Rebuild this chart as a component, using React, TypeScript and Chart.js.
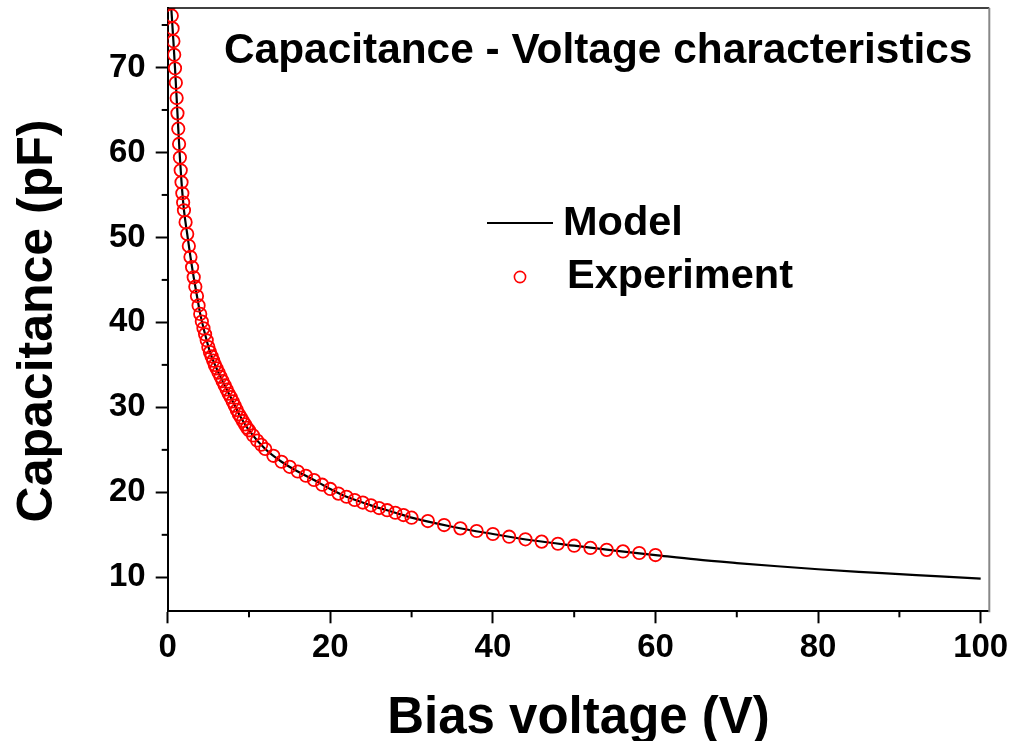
import React, { useEffect, useRef } from 'react';
import { Chart, registerables } from 'chart.js';

Chart.register(...registerables);

const FONT = '"Liberation Sans", Arial, Helvetica, sans-serif';

// Measured C–V points (bias voltage in V, capacitance in pF)
const expVoltage = [
  0.3, 0.4, 0.5, 0.6, 0.7, 0.8, 0.9, 1.0, 1.1, 1.2, 1.3, 1.4, 1.5, 1.6, 1.7, 1.8, 1.9, 2.0,
  2.2, 2.4, 2.6, 2.8, 3.0, 3.2, 3.4, 3.6, 3.8, 4.0, 4.2, 4.4, 4.6, 4.8, 5.0, 5.2, 5.4, 5.6, 5.8, 6.0,
  6.25, 6.5, 6.75, 7.0, 7.25, 7.5, 7.75, 8.0, 8.25, 8.5, 8.75, 9.0, 9.25, 9.5, 9.75, 10.0,
  10.5, 11.0, 11.5, 12.0,
  13, 14, 15, 16, 17, 18, 19, 20, 21, 22, 23, 24, 25, 26, 27, 28, 29, 30,
  32, 34, 36, 38, 40, 42, 44, 46, 48, 50, 52, 54, 56, 58, 60,
];
const expCapacitance = [
  79.0, 77.6, 76.1, 74.6, 73.1, 71.5, 69.9, 68.2, 66.4, 64.6, 62.8, 61.0, 59.4, 57.9, 56.5, 55.2, 54.1, 53.2,
  51.8, 50.4, 49.0, 47.7, 46.5, 45.3, 44.2, 43.1, 42.0, 41.0, 40.1, 39.3, 38.6, 37.9, 37.1, 36.5, 36.0, 35.5, 35.0, 34.6,
  34.1, 33.6, 33.1, 32.6, 32.1, 31.6, 31.2, 30.7, 30.2, 29.7, 29.2, 28.8, 28.4, 28.0, 27.6, 27.3,
  26.7, 26.1, 25.6, 25.1,
  24.3, 23.6, 23.0, 22.45, 21.95, 21.45, 20.9, 20.4, 19.85, 19.48, 19.1, 18.8, 18.47, 18.15, 17.9, 17.6, 17.33, 17.02,
  16.62, 16.15, 15.76, 15.45, 15.1, 14.78, 14.47, 14.2, 13.95, 13.72, 13.46, 13.23, 13.05, 12.86, 12.62,
];

// Model curve (bias voltage in V, capacitance in pF)
const modelVoltage = [
  0.3, 0.5, 0.7, 0.9, 1.1, 1.3, 1.5, 1.7, 2.0, 2.4, 2.8, 3.2, 3.6, 4.0, 4.6, 5.2, 6.0, 7.0, 8.0, 9.0,
  10, 12, 14, 16, 18, 20, 22, 25, 28, 30, 35, 40, 45, 50, 55, 60, 65, 70, 75, 80, 85, 90, 95, 100,
];
const modelCapacitance = [
  79.0, 76.1, 73.1, 69.9, 66.4, 62.8, 59.4, 56.5, 53.2, 50.4, 47.7, 45.3, 43.1, 41.0, 38.6, 36.5, 34.6, 32.6, 30.7, 28.8,
  27.3, 25.1, 23.6, 22.45, 21.45, 20.4, 19.48, 18.47, 17.6, 17.02, 15.95, 15.1, 14.33, 13.72, 13.15, 12.62, 12.1, 11.68, 11.3, 10.95, 10.65, 10.38, 10.1, 9.85,
];

const xMajorTicks = [0, 20, 40, 60, 80, 100];
const xMinorTicks = [10, 30, 50, 70, 90];
const yMajorTicks = [10, 20, 30, 40, 50, 60, 70];
const yMinorTicks = [15, 25, 35, 45, 55, 65, 75];

const chartTitle = 'Capacitance - Voltage characteristics';
const seriesNames = ['Model', 'Experiment'];
const xAxisTitle = 'Bias voltage (V)';
const yAxisTitle = 'Capacitance (pF)';

const RED = '#ff0000';

const framePlugin = {
  id: 'frameAndLabels',
  afterDraw(chart: any) {
    const { ctx, chartArea, scales } = chart;
    const { left, right, top, bottom } = chartArea;
    ctx.save();

    // top and right frame
    ctx.lineWidth = 1.5;
    ctx.strokeStyle = '#000';
    ctx.beginPath();
    ctx.moveTo(left, top);
    ctx.lineTo(right, top);
    ctx.stroke();
    ctx.strokeStyle = '#888';
    ctx.lineWidth = 2;
    ctx.beginPath();
    ctx.moveTo(right, top);
    ctx.lineTo(right, bottom + 1);
    ctx.stroke();

    // minor ticks
    ctx.strokeStyle = '#000';
    ctx.lineWidth = 2;
    xMinorTicks.forEach((v) => {
      const px = scales.x.getPixelForValue(v);
      ctx.beginPath();
      ctx.moveTo(px, bottom);
      ctx.lineTo(px, bottom + 6);
      ctx.stroke();
    });
    yMinorTicks.forEach((v) => {
      const py = scales.y.getPixelForValue(v);
      ctx.beginPath();
      ctx.moveTo(left - 6, py);
      ctx.lineTo(left, py);
      ctx.stroke();
    });

    // y axis title, centred slightly below the middle of the axis
    ctx.save();
    ctx.translate(38, 321);
    ctx.rotate(-Math.PI / 2);
    ctx.fillStyle = '#000';
    ctx.textAlign = 'center';
    ctx.textBaseline = 'middle';
    ctx.font = `bold 50px ${FONT}`;
    ctx.fillText(yAxisTitle, 0, 0);
    ctx.restore();

    // title
    ctx.fillStyle = '#000';
    ctx.textBaseline = 'alphabetic';
    ctx.textAlign = 'left';
    ctx.font = `bold 42.4px ${FONT}`;
    ctx.fillText(chartTitle, 224, 63);

    // legend
    ctx.strokeStyle = '#000';
    ctx.lineWidth = 2;
    ctx.beginPath();
    ctx.moveTo(487, 223);
    ctx.lineTo(553, 223);
    ctx.stroke();
    ctx.font = `bold 41.5px ${FONT}`;
    ctx.fillText(seriesNames[0], 563, 235);

    ctx.strokeStyle = RED;
    ctx.lineWidth = 1.6;
    ctx.beginPath();
    ctx.arc(520, 277, 5.6, 0, Math.PI * 2);
    ctx.stroke();
    ctx.fillStyle = '#000';
    ctx.fillText(seriesNames[1], 567, 288);

    ctx.restore();
  },
};

export default function App() {
  const canvasRef = useRef<HTMLCanvasElement | null>(null);

  useEffect(() => {
    const canvas = canvasRef.current;
    if (!canvas) return;

    const chart = new Chart(canvas, {
      type: 'line',
      data: {
        datasets: [
          {
            label: seriesNames[1],
            data: expVoltage.map((v, i) => ({ x: v, y: expCapacitance[i] })),
            showLine: false,
            pointStyle: 'circle',
            pointRadius: 6.2,
            pointBorderWidth: 1.8,
            pointBorderColor: RED,
            pointBackgroundColor: 'rgba(0,0,0,0)',
            borderColor: RED,
            order: 0,
            clip: 0,
          },
          {
            label: seriesNames[0],
            data: modelVoltage.map((v, i) => ({ x: v, y: modelCapacitance[i] })),
            borderColor: '#000',
            borderWidth: 2.2,
            pointRadius: 0,
            fill: false,
            cubicInterpolationMode: 'monotone',
            order: 1,
            clip: 0,
          },
        ],
      },
      options: {
        responsive: false,
        animation: false,
        events: [],
        layout: { padding: { left: 0, top: 8, right: 34.7, bottom: 0 } },
        plugins: {
          legend: { display: false },
          tooltip: { enabled: false },
          title: { display: false },
        },
        scales: {
          x: {
            type: 'linear',
            min: 0,
            max: 101.06,
            afterBuildTicks: (scale: any) => {
              scale.ticks = xMajorTicks.map((v) => ({ value: v }));
            },
            afterFit: (scale: any) => {
              scale.height = 129.7;
              scale.paddingLeft = 0;
              scale.paddingRight = 0;
            },
            border: { display: true, color: '#000', width: 2 },
            grid: {
              drawOnChartArea: false,
              drawTicks: true,
              tickLength: 12,
              tickWidth: 2,
              tickColor: '#000',
            },
            ticks: {
              color: '#000',
              padding: 5,
              maxRotation: 0,
              autoSkip: false,
              font: { family: FONT, size: 33, weight: 'bold', lineHeight: 1.2 },
              callback: (v: any) => String(v),
            },
            title: {
              display: true,
              text: xAxisTitle,
              color: '#000',
              padding: { top: 0, bottom: 0 },
              font: { family: FONT, size: 51, weight: 'bold', lineHeight: 0.88 },
            },
          },
          y: {
            type: 'linear',
            min: 6,
            max: 77,
            afterBuildTicks: (scale: any) => {
              scale.ticks = yMajorTicks.map((v) => ({ value: v }));
            },
            afterFit: (scale: any) => {
              scale.width = 167.7;
              scale.paddingTop = 0;
              scale.paddingBottom = 0;
            },
            border: { display: true, color: '#000', width: 2 },
            grid: {
              drawOnChartArea: false,
              drawTicks: true,
              tickLength: 12,
              tickWidth: 2,
              tickColor: '#000',
            },
            ticks: {
              color: '#000',
              padding: 10,
              autoSkip: false,
              font: { family: FONT, size: 33, weight: 'bold', lineHeight: 1.2 },
              callback: (v: any) => String(v),
            },
            title: { display: false },
          },
        },
      },
      plugins: [framePlugin],
    } as any);

    return () => {
      chart.destroy();
    };
  }, []);

  return (
    <div style={{ position: 'absolute', left: 0, top: 0, width: 1024, height: 741, background: '#fff' }}>
      <canvas ref={canvasRef} width={1024} height={741} style={{ display: 'block' }} />
    </div>
  );
}
